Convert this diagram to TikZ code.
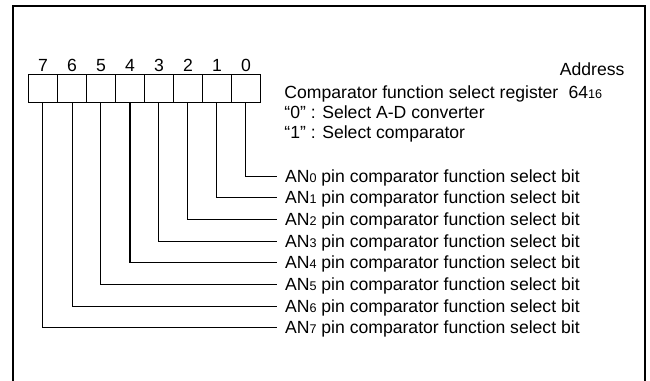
\documentclass[tikz,border=0pt]{standalone}
\usepackage{fontspec}
\setmainfont{Liberation Sans}
\newcommand{\lowsub}[1]{{\fontsize{6.3}{7}\selectfont #1}}
\begin{document}
\begin{tikzpicture}[x=0.5pt, y=-0.5pt, line width=0.5pt,
  cell/.style={draw, minimum width=14.5pt, minimum height=14pt, inner sep=0pt},
  txt/.style={font=\fontsize{8.8}{10}\selectfont, inner sep=0pt},
  bitlab/.style={txt, anchor=west, inner sep=3.8pt, text height=6pt, text depth=0pt}]
\useasboundingbox (0,0) rectangle (650,381);
\draw[line width=1pt] (13,385) -- (13,6) -- (645,6) -- (645,385);
% register cells
\foreach \i in {0,...,7} {
  \node[cell] (c\i) at ({43+29*(7-\i)},88) {};
  \node[txt, anchor=base] (n\i) at ({43+29*(7-\i)},71.5) {\i};
}
\node[txt, anchor=base east] (addr) at (625,75) {Address};
\node[txt, anchor=base west] (reg) at (284,98) {Comparator function select register};
\node[txt, anchor=base west] (adr) at (568,98) {64\lowsub{16}};
\node[txt, anchor=base west] (sel0) at (284,118) {“0” : Select A-D converter};
\node[txt, anchor=base west] (sel1) at (284,138) {“1” : Select comparator};
% bit descriptions
\foreach \i in {0,...,7} {
  \node[bitlab] (an\i) at (277,{176+21.7*\i}) {AN\lowsub{\i} pin comparator function select bit};
  \draw (c\i.south) |- (an\i.west);
}
\end{tikzpicture}
\end{document}
